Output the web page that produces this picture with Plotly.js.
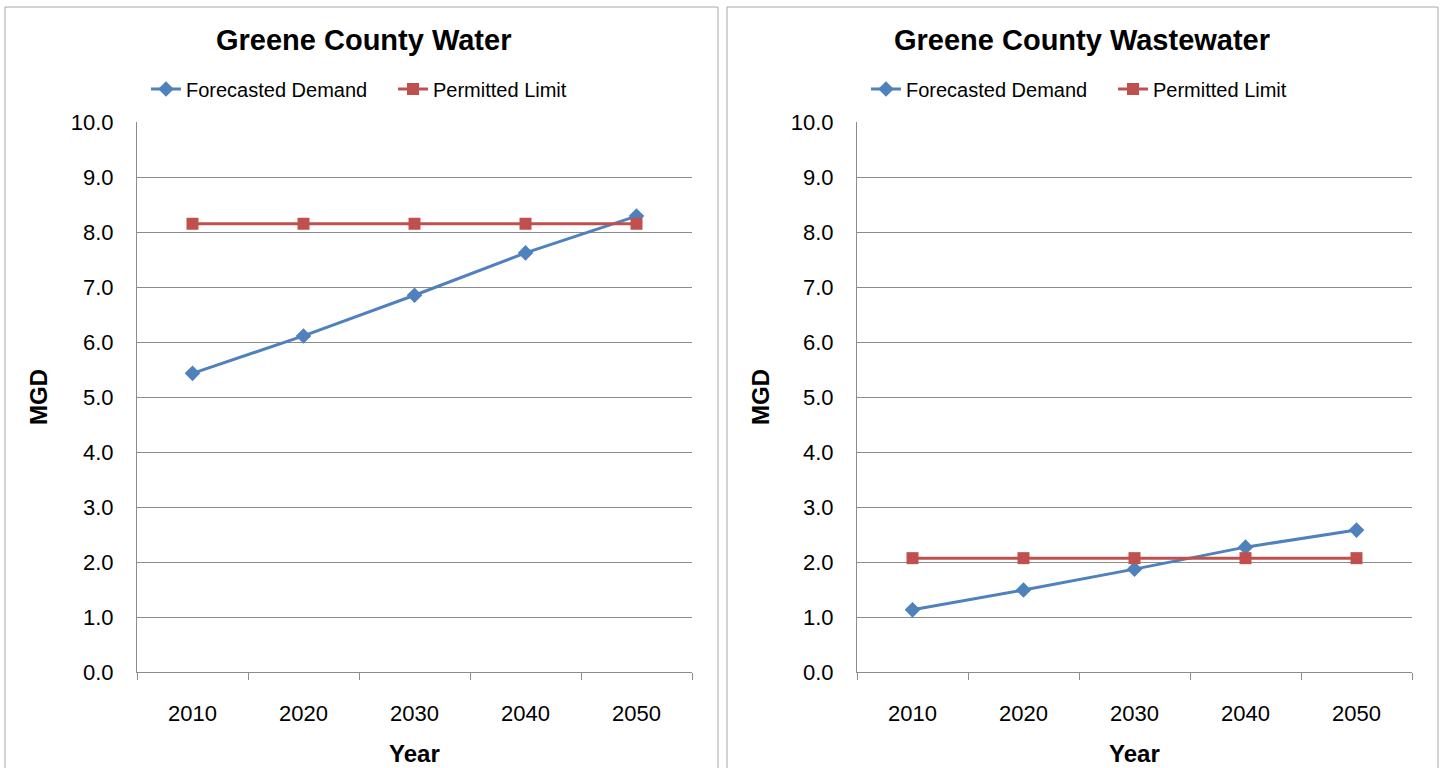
<!DOCTYPE html>
<html>
<head>
<meta charset="utf-8">
<script src="https://cdn.plot.ly/plotly-3.0.1.min.js"></script>
<style>
  html, body { margin: 0; padding: 0; background: #ffffff; }
  #chart { width: 1442px; height: 768px; }
</style>
</head>
<body>
<div id="chart"></div>
<script>
// ---- data ----
const years = ['2010', '2020', '2030', '2040', '2050'];
const waterDemand = [5.43, 6.11, 6.85, 7.62, 8.29];
const waterLimit = [8.15, 8.15, 8.15, 8.15, 8.15];
const wastewaterDemand = [1.13, 1.49, 1.87, 2.27, 2.58];
const wastewaterLimit = [2.07, 2.07, 2.07, 2.07, 2.07];
const yTickValues = [0, 1, 2, 3, 4, 5, 6, 7, 8, 9, 10];
const chartTitles = ['Greene County Water', 'Greene County Wastewater'];
const seriesNames = ['Forecasted Demand', 'Permitted Limit'];

// ---- styling ----
const W = 1442, H = 768;
const FONT = 'Liberation Sans, Arial, sans-serif';
const BLUE = '#4F81BD';
const RED = '#C0504D';
const GRID = '#8c8c8c';
const px = v => v / W;
const py = v => 1 - v / H;

function demandTrace(y, xa, ya, leg) {
  return {
    type: 'scatter', mode: 'lines+markers', name: seriesNames[0],
    x: years, y: y, xaxis: xa, yaxis: ya, legend: leg,
    line: { color: BLUE, width: 3 },
    marker: { symbol: 'diamond', size: 12, color: BLUE }
  };
}
function limitTrace(y, xa, ya, leg) {
  return {
    type: 'scatter', mode: 'lines+markers', name: seriesNames[1],
    x: years, y: y, xaxis: xa, yaxis: ya, legend: leg,
    line: { color: RED, width: 3 },
    marker: { symbol: 'square', size: 12, color: RED }
  };
}

const data = [
  demandTrace(waterDemand, 'x', 'y', 'legend'),
  limitTrace(waterLimit, 'x', 'y', 'legend'),
  demandTrace(wastewaterDemand, 'x2', 'y2', 'legend2'),
  limitTrace(wastewaterLimit, 'x2', 'y2', 'legend2')
];

function xAxis(x0, x1, anchor) {
  return {
    type: 'category', domain: [px(x0), px(x1)], anchor: anchor,
    range: [-0.5, years.length - 0.5],
    tickson: 'boundaries', ticks: 'outside', ticklen: 7, tickcolor: GRID, tickwidth: 1,
    showline: true, linecolor: GRID, linewidth: 1,
    showgrid: false, zeroline: false, fixedrange: true,
    ticklabelstandoff: 22,
    tickfont: { family: FONT, size: 22, color: '#000000' }
  };
}
function yAxis(anchor) {
  return {
    domain: [py(672), py(122)], anchor: anchor,
    range: [0, 10], tickvals: yTickValues, tickformat: '.1f',
    ticks: '', showline: true, linecolor: GRID, linewidth: 1,
    showgrid: true, gridcolor: GRID, gridwidth: 1, zeroline: false, fixedrange: true,
    ticklabelstandoff: 18,
    tickfont: { family: FONT, size: 22, color: '#000000' }
  };
}

const legendBase = {
  orientation: 'h', yanchor: 'middle', xanchor: 'left',
  bgcolor: 'rgba(0,0,0,0)', borderwidth: 0,
  font: { family: FONT, size: 20, color: '#000000' },
  entrywidth: 202, entrywidthmode: 'pixels', itemwidth: 30, tracegroupgap: 0
};

const annotations = [
  { text: '<b>' + chartTitles[0] + '</b>', x: px(363), y: py(40) },
  { text: '<b>' + chartTitles[1] + '</b>', x: px(1082), y: py(40) }
].map(a => Object.assign(a, {
  xref: 'paper', yref: 'paper', xanchor: 'center', yanchor: 'middle', showarrow: false,
  font: { family: FONT, size: 29, color: '#000000' }
})).concat([
  { text: '<b>Year</b>', x: px(414), y: py(753) },
  { text: '<b>Year</b>', x: px(1134), y: py(753) }
].map(a => Object.assign(a, {
  xref: 'paper', yref: 'paper', xanchor: 'center', yanchor: 'middle', showarrow: false,
  font: { family: FONT, size: 24, color: '#000000' }
}))).concat([
  { text: '<b>MGD</b>', x: px(38), y: py(397) },
  { text: '<b>MGD</b>', x: px(760), y: py(397) }
].map(a => Object.assign(a, {
  xref: 'paper', yref: 'paper', xanchor: 'center', yanchor: 'middle', showarrow: false,
  textangle: -90, font: { family: FONT, size: 24, color: '#000000' }
})));

const shapes = [
  { type: 'rect', xref: 'paper', yref: 'paper', x0: px(5), x1: px(718), y0: py(775), y1: py(7),
    line: { color: '#a6a6a6', width: 1 }, fillcolor: 'rgba(0,0,0,0)' },
  { type: 'rect', xref: 'paper', yref: 'paper', x0: px(727), x1: px(1438), y0: py(775), y1: py(7),
    line: { color: '#a6a6a6', width: 1 }, fillcolor: 'rgba(0,0,0,0)' }
];

const layout = {
  width: W, height: H,
  margin: { l: 0, r: 0, t: 0, b: 0, autoexpand: false },
  paper_bgcolor: '#ffffff', plot_bgcolor: '#ffffff',
  showlegend: true,
  xaxis: xAxis(137, 692, 'y'),
  yaxis: yAxis('x'),
  xaxis2: xAxis(857, 1412, 'y2'),
  yaxis2: yAxis('x2'),
  legend: Object.assign({ x: px(146), y: py(89) }, legendBase),
  legend2: Object.assign({ x: px(866), y: py(89) }, legendBase),
  annotations: annotations,
  shapes: shapes
};

Plotly.newPlot('chart', data, layout, { displayModeBar: false, staticPlot: true });
</script>
</body>
</html>
